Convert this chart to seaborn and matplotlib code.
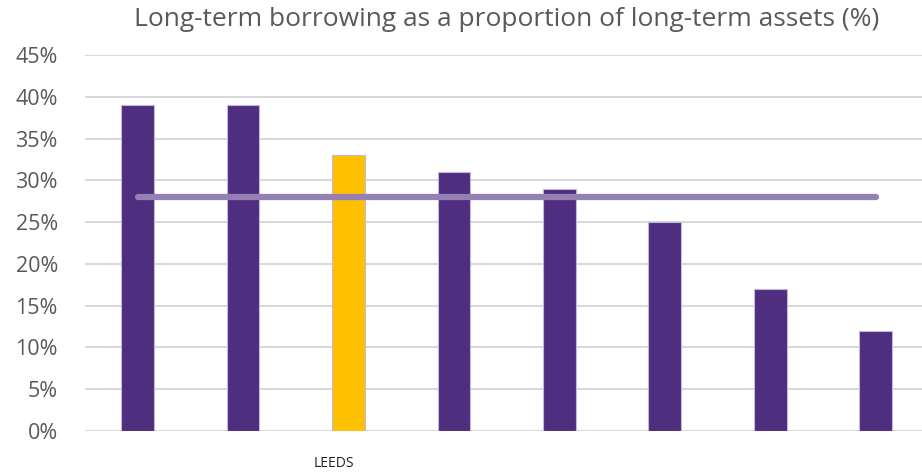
import numpy as np
import pandas as pd
import matplotlib.pyplot as plt
import matplotlib.transforms as mtransforms
import seaborn as sns

# values
council_ids = ['c1', 'c2', 'c3', 'c4', 'c5', 'c6', 'c7', 'c8']
tick_labels = ['', '', 'LEEDS', '', '', '', '', '']
borrowing_pct = [39, 39, 33, 31, 29, 25, 17, 12]
is_leeds = [False, False, True, False, False, False, False, False]
average_pct = 28

df = pd.DataFrame({'council': council_ids, 'pct': borrowing_pct,
                   'group': ['Leeds' if f else 'Other' for f in is_leeds]})

sns.set_style('white')
plt.rcParams['font.family'] = ['Open Sans', 'DejaVu Sans']

fig = plt.figure(figsize=(9.22, 4.73), dpi=100)
ax = fig.add_axes([85 / 922, 42 / 473, (922 - 85) / 922, (431 - 55) / 473])

sns.barplot(data=df, x='council', y='pct', hue='group', dodge=False,
            palette={'Other': '#4F2D7F', 'Leeds': '#FFC000'}, saturation=1,
            width=0.31, edgecolor='#C5B6DD', linewidth=0.8,
            legend=False, ax=ax, zorder=2)

# average line across all councils
ax.plot(range(len(council_ids)), [average_pct] * len(council_ids),
        color='#9580B5', lw=4.5, solid_capstyle='round', zorder=3)

ax.set_ylim(0, 45)
ax.set_xlim(-0.5, 7.44)
ax.set_yticks(np.arange(0, 50, 5))
ax.set_yticklabels([f'{v}%' for v in range(0, 50, 5)], fontsize=15.5, color='#595959')
ax.set_xticks(range(len(tick_labels)))
ax.set_xticklabels(tick_labels, fontsize=10, color='#222222')
ax.tick_params(axis='x', length=0, pad=18)
ax.tick_params(axis='y', length=0, pad=19.5)
shift = mtransforms.ScaledTranslation(-15 / 100, 0, fig.dpi_scale_trans)
for lab in ax.get_xticklabels():
    lab.set_transform(lab.get_transform() + shift)
ax.set_xlabel('')
ax.set_ylabel('')
ax.yaxis.grid(True, color='#D9D9D9', lw=1.5, zorder=0)
ax.set_axisbelow(True)
sns.despine(ax=ax, left=True, bottom=True, top=True, right=True)

fig.text(507 / 922, 1 - 20 / 473, 'Long-term borrowing as a proportion of long-term assets (%)',
         ha='center', va='center', fontsize=19, color='#595959')

fig.savefig('out.png', dpi=100)
